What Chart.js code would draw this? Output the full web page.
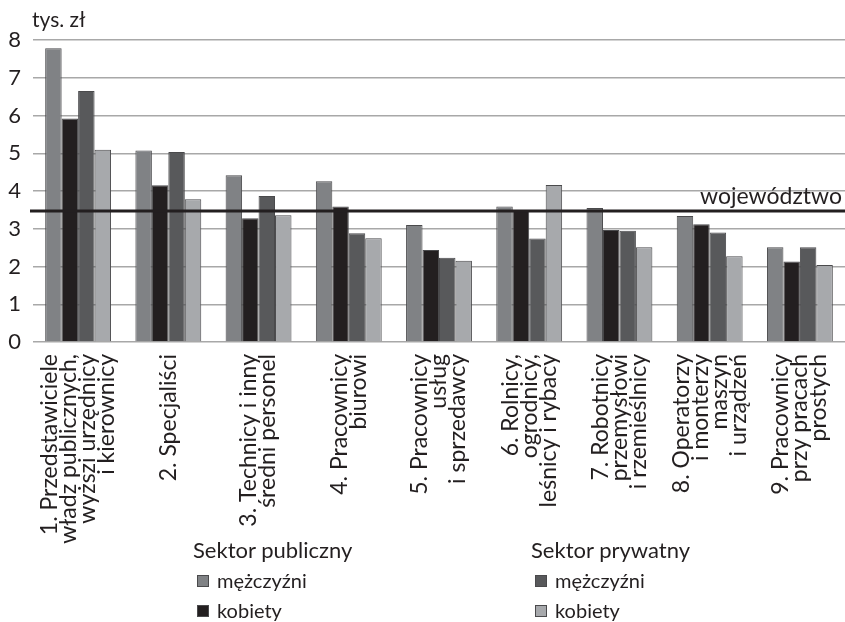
<!DOCTYPE html>
<html><head><meta charset="utf-8">
<script src="https://cdn.jsdelivr.net/npm/chart.js@4"></script>
<style>
html,body{margin:0;padding:0;background:#fff;}
#wrap{position:relative;width:845px;height:622px;overflow:hidden;}
#c{position:absolute;left:0;top:0;}
.lg{position:absolute;font-family:Lato,sans-serif;font-size:20px;color:#231f20;white-space:nowrap;line-height:20px;}
.lt{font-size:22px;}
.sq{position:absolute;width:10px;height:10px;border:1px solid #4a4a4c;}
</style></head><body>
<div id="wrap"><canvas id="c" width="845" height="622"></canvas><div id="legend"></div></div>
<script>
const categories = [
  ["1. Przedstawiciele", "władz publicznych,", "wyższi urzędnicy", "i kierownicy"],
  ["2. Specjaliści"],
  ["3. Technicy i inny", "średni personel"],
  ["4. Pracownicy", "biurowi"],
  ["5. Pracownicy", "usług", "i sprzedawcy"],
  ["6. Rolnicy,", "ogrodnicy,", "leśnicy i rybacy"],
  ["7. Robotnicy", "przemysłowi", "i rzemieślnicy"],
  ["8. Operatorzy", "i monterzy", "maszyn", "i urządzeń"],
  ["9. Pracownicy", "przy pracach", "prostych"]
];
const publicMen    = [7.78, 5.07, 4.42, 4.26, 3.10, 3.59, 3.55, 3.34, 2.51];
const publicWomen  = [5.92, 4.15, 3.28, 3.59, 2.44, 3.48, 2.97, 3.12, 2.13];
const privateMen   = [6.65, 5.03, 3.87, 2.88, 2.23, 2.74, 2.95, 2.90, 2.51];
const privateWomen = [5.09, 3.78, 3.36, 2.75, 2.15, 4.16, 2.51, 2.27, 2.04];
const regionAverage = [3.47];
const regionLabel = "województwo";
const unitLabel = "tys. zł";
const sectorTitles = ["Sektor publiczny", "Sektor prywatny"];
const seriesNames = ["mężczyźni", "kobiety", "mężczyźni", "kobiety"];
const yTickValues = [0, 1, 2, 3, 4, 5, 6, 7, 8];

const colors = ["#808285", "#231f20", "#58595b", "#a7a9ac"];
const seriesData = [publicMen, publicWomen, privateMen, privateWomen];

const labelPlugin = {
  id: 'customLabels',
  afterDatasetsDraw(chart) {
    const ctx = chart.ctx, ys = chart.scales.y, area = chart.chartArea;
    const yPix = ys.getPixelForValue(regionAverage[0]);
    ctx.save();
    ctx.strokeStyle = '#231f20';
    ctx.lineWidth = 3;
    ctx.beginPath();
    ctx.moveTo(area.left - 3, yPix);
    ctx.lineTo(area.right, yPix);
    ctx.stroke();
    ctx.restore();
  },
  afterDraw(chart) {
    const ctx = chart.ctx, xs = chart.scales.x, ys = chart.scales.y, area = chart.chartArea;
    ctx.save();
    ctx.fillStyle = '#231f20';
    ctx.font = '23px Lato';
    ctx.textAlign = 'right';
    ctx.textBaseline = 'middle';
    const lh = 19;
    categories.forEach((lines, i) => {
      const cx = xs.getPixelForValue(i);
      lines.forEach((t, j) => {
        const x = cx - (lines.length - 1) * lh / 2 + j * lh;
        ctx.save();
        ctx.translate(x, area.bottom + 12);
        ctx.rotate(-Math.PI / 2);
        ctx.fillText(t, 0, 0);
        ctx.restore();
      });
    });
    ctx.textAlign = 'left';
    ctx.textBaseline = 'alphabetic';
    ctx.font = '21px Lato';
    ctx.fillText(unitLabel, area.left - 1, 27);
    ctx.textAlign = 'right';
    ctx.font = '23px Lato';
    ctx.fillText(regionLabel, area.right - 3, ys.getPixelForValue(regionAverage[0]) - 7);
    ctx.restore();
  }
};

const datasets = seriesData.map((d, i) => ({
  label: seriesNames[i],
  data: d,
  backgroundColor: colors[i],
  borderColor: '#4a4a4c',
  borderWidth: 1,
  categoryPercentage: 0.73,
  barPercentage: 1.0
}));

new Chart(document.getElementById('c'), {
  type: 'bar',
  data: { labels: categories.map(l => l.join(' ')), datasets },
  options: {
    responsive: false,
    animation: false,
    layout: { padding: { top: 40, right: 0, bottom: 80, left: 0 } },
    plugins: { legend: { display: false }, tooltip: { enabled: false } },
    scales: {
      x: {
        grid: { display: false },
        border: { display: false },
        ticks: { display: false },
        afterFit: s => { s.height = 200; }
      },
      y: {
        min: 0, max: 8,
        afterBuildTicks: s => { s.ticks = yTickValues.map(v => ({ value: v })); },
        grid: { color: '#a8a8a8', lineWidth: 1.5, drawTicks: false },
        border: { display: false },
        ticks: { padding: 12, color: '#231f20', font: { family: 'Lato', size: 22 } },
        afterFit: s => { s.width = 33; }
      }
    }
  },
  plugins: [labelPlugin]
});

// HTML legend
const legend = document.getElementById('legend');
const colX = [193, 531];
sectorTitles.forEach((t, g) => {
  const h = document.createElement('div');
  h.className = 'lg lt'; h.textContent = t;
  h.style.left = colX[g] + 'px'; h.style.top = '540px';
  legend.appendChild(h);
  for (let k = 0; k < 2; k++) {
    const idx = g * 2 + k;
    const sq = document.createElement('div');
    sq.className = 'sq';
    sq.style.background = colors[idx];
    sq.style.left = (colX[g] + 4) + 'px';
    sq.style.top = (575 + k * 30) + 'px';
    legend.appendChild(sq);
    const tx = document.createElement('div');
    tx.className = 'lg'; tx.textContent = seriesNames[idx];
    tx.style.left = (colX[g] + 24) + 'px';
    tx.style.top = (570 + k * 30) + 'px';
    legend.appendChild(tx);
  }
});
</script>
</body></html>
